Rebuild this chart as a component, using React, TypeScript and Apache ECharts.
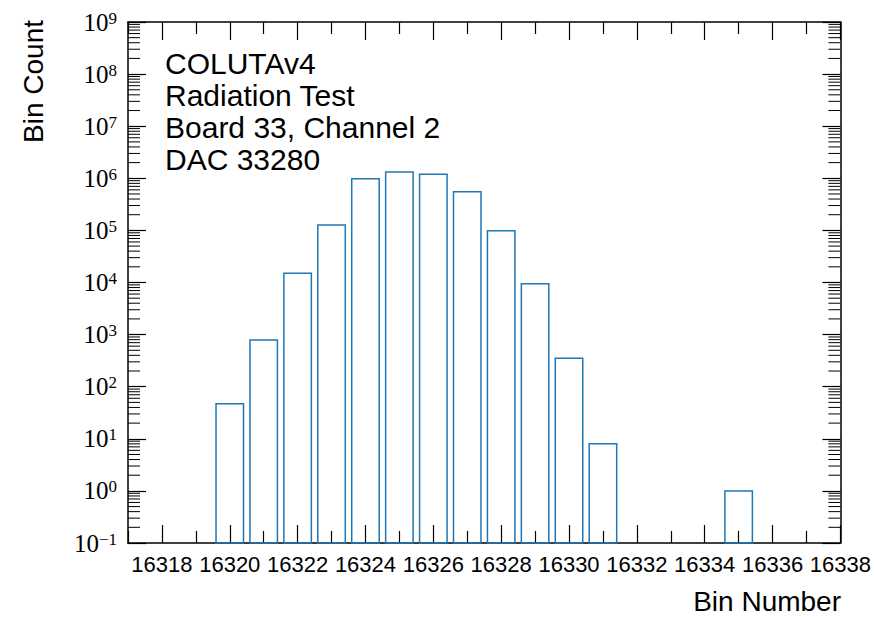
import React, { useEffect, useRef } from "react";
import * as echarts from "echarts";

const binNumbers = [16320, 16321, 16322, 16323, 16324, 16325, 16326, 16327, 16328, 16329, 16330, 16331, 16335];
const binCounts = [47, 790, 15000, 127000, 980000, 1320000, 1200000, 550000, 98000, 9500, 350, 8, 1];
const xMajorTicks = [16318, 16320, 16322, 16324, 16326, 16328, 16330, 16332, 16334, 16336, 16338];
const xMinorTicks = [16317, 16319, 16321, 16323, 16325, 16327, 16329, 16331, 16333, 16335, 16337];
const decadeExponents = [-1, 0, 1, 2, 3, 4, 5, 6, 7, 8, 9];
const minorMultipliers = [2, 3, 4, 5, 6, 7, 8, 9];
const annotationLines = ["COLUTAv4", "Radiation Test", "Board 33, Channel 2", "DAC 33280"];
const xTitle = "Bin Number";
const yTitle = "Bin Count";

const X_MIN = 16317;
const X_MAX = 16338;
const Y_MIN = 0.1;
const Y_MAX = 1e9;
const BAR_COLOR = "#1f77b4";
const SANS = "'Liberation Sans', Arial, sans-serif";
const SERIF = "'Liberation Serif', 'Times New Roman', serif";

const yMinorValues: number[] = [];
decadeExponents.slice(0, -1).forEach((e) => {
  minorMultipliers.forEach((m) => yMinorValues.push(m * Math.pow(10, e)));
});

export default function App() {
  const ref = useRef<HTMLDivElement>(null);
  useEffect(() => {
    if (!ref.current) return;
    const chart = echarts.init(ref.current, null, { renderer: "svg" });
    const axisLine = { show: true, lineStyle: { color: "#000", width: 1.5 } };
    const tickStyle = { color: "#000", width: 1.2 };
    const xBase = { type: "value", min: X_MIN, max: X_MAX, splitLine: { show: false } };
    const yBase = { type: "log", logBase: 10, min: Y_MIN, max: Y_MAX, splitLine: { show: false } };
    const option: any = {
      animation: false,
      grid: { left: 128, right: 33, top: 22, bottom: 74, containLabel: false },
      xAxis: [
        {
          ...xBase,
          position: "bottom",
          axisLine,
          axisTick: { inside: true, length: 18, customValues: xMajorTicks, lineStyle: tickStyle },
          axisLabel: {
            customValues: xMajorTicks,
            fontSize: 22,
            fontFamily: SANS,
            color: "#000",
            margin: 10,
            formatter: (v: number) => String(v),
          },
        },
        {
          ...xBase,
          position: "bottom",
          axisLine: { show: false },
          axisTick: { inside: true, length: 12, customValues: xMinorTicks, lineStyle: tickStyle },
          axisLabel: { show: false },
        },
        {
          ...xBase,
          position: "top",
          axisLine,
          axisTick: { inside: true, length: 18, customValues: xMajorTicks, lineStyle: tickStyle },
          axisLabel: { show: false },
        },
        {
          ...xBase,
          position: "top",
          axisLine: { show: false },
          axisTick: { inside: true, length: 12, customValues: xMinorTicks, lineStyle: tickStyle },
          axisLabel: { show: false },
        },
      ],
      yAxis: [
        {
          ...yBase,
          position: "left",
          axisLine,
          axisTick: { inside: true, length: 18, lineStyle: tickStyle },
          axisLabel: {
            margin: 11,
            color: "#000",
            formatter: (v: number) => {
              const e = Math.round(Math.log10(v));
              const s = e < 0 ? "\u2212" + String(-e) : String(e);
              return "{b|10}{e|" + s + "}";
            },
            rich: {
              b: { fontSize: 25, fontFamily: SERIF, color: "#000", lineHeight: 25 },
              e: { fontSize: 17, fontFamily: SERIF, color: "#000", lineHeight: 17, verticalAlign: "top", padding: [0, 0, 16, 0] },
            },
          },
        },
        {
          ...yBase,
          position: "right",
          axisLine,
          axisTick: { inside: true, length: 18, lineStyle: tickStyle },
          axisLabel: { show: false },
        },
      ],
      series: [
        {
          type: "custom",
          xAxisIndex: 0,
          yAxisIndex: 0,
          data: binNumbers.map((b, i) => [b, binCounts[i]]),
          encode: { x: 0, y: 1 },
          renderItem: (params: any, api: any) => {
            const x = api.value(0);
            const v = api.value(1);
            const p1 = api.coord([x - 0.405, v]);
            const p2 = api.coord([x + 0.405, Y_MIN]);
            return {
              type: "rect",
              shape: { x: p1[0], y: p1[1], width: p2[0] - p1[0], height: p2[1] - p1[1] },
              style: { fill: "none", stroke: BAR_COLOR, lineWidth: 1.5 },
            };
          },
        },
        {
          type: "custom",
          xAxisIndex: 0,
          yAxisIndex: 0,
          silent: true,
          data: yMinorValues.map((v) => [X_MIN, v]),
          encode: { x: 0, y: 1 },
          renderItem: (params: any, api: any) => {
            const cs = params.coordSys;
            const y = api.coord([X_MIN, api.value(1)])[1];
            const style = { stroke: "#000", lineWidth: 1 };
            return {
              type: "group",
              children: [
                { type: "line", shape: { x1: cs.x, y1: y, x2: cs.x + 12, y2: y }, style },
                { type: "line", shape: { x1: cs.x + cs.width - 12, y1: y, x2: cs.x + cs.width, y2: y }, style },
              ],
            };
          },
        },
      ],
      graphic: [
        {
          type: "text",
          x: 165,
          y: 47,
          style: {
            text: annotationLines.join("\n"),
            fontSize: 30,
            fontFamily: SANS,
            fill: "#000",
            lineHeight: 32,
          },
        },
        {
          type: "text",
          x: 841,
          y: 601,
          style: {
            text: xTitle,
            fontSize: 28,
            fontFamily: SANS,
            fill: "#000",
            align: "right",
            verticalAlign: "middle",
          },
        },
        {
          type: "text",
          x: 33,
          y: 20,
          rotation: Math.PI / 2,
          style: {
            text: yTitle,
            fontSize: 28,
            fontFamily: SANS,
            fill: "#000",
            align: "right",
            verticalAlign: "middle",
          },
        },
      ],
    };
    chart.setOption(option);
    return () => chart.dispose();
  }, []);
  return <div ref={ref} style={{ width: 874, height: 617, position: "absolute", left: 0, top: 0, background: "#fff" }} />;
}
